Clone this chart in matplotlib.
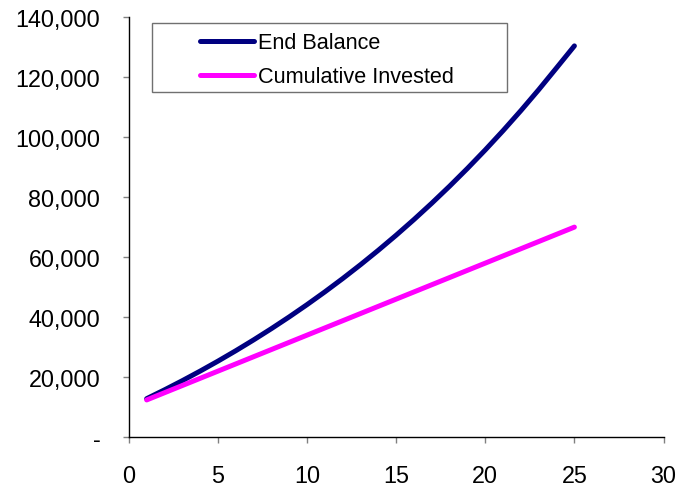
import matplotlib.pyplot as plt
from matplotlib.patches import Rectangle
from matplotlib.ticker import FuncFormatter

plt.rcParams['font.family'] = ['Liberation Sans', 'DejaVu Sans']

# Values
years = list(range(1, 26))
end_balance = [12820, 15758, 18820, 22010, 25334, 28798, 32408, 36169, 40088, 44172,
               48427, 52861, 57481, 62295, 67311, 72538, 77985, 83660, 89574, 95736,
               102157, 108848, 115820, 123084, 130400]
cumulative_invested = [12400, 14800, 17200, 19600, 22000, 24400, 26800, 29200, 31600, 34000,
                       36400, 38800, 41200, 43600, 46000, 48400, 50800, 53200, 55600, 58000,
                       60400, 62800, 65200, 67600, 70000]


def y_fmt(v, pos):
    # Excel accounting style: zero shown as a dash
    if v == 0:
        return "-"
    return f"{v:,.0f}"


fig = plt.figure(figsize=(6.89, 4.89), dpi=100)
ax = fig.add_axes([0.187, 0.104, 0.776, 0.859])

ax.plot(years, end_balance, color='#000080', linewidth=3.6, solid_capstyle='round', label='End Balance')
ax.plot(years, cumulative_invested, color='#FF00FF', linewidth=3.6, solid_capstyle='round',
        label='Cumulative Invested')

ax.set_xlim(0, 30)
ax.set_ylim(0, 140000)
ax.set_xticks(range(0, 31, 5))
ax.set_yticks(range(0, 140001, 20000))
ax.yaxis.set_major_formatter(FuncFormatter(y_fmt))

for side in ['top', 'right']:
    ax.spines[side].set_visible(False)
for side in ['left', 'bottom']:
    ax.spines[side].set_color('black')
    ax.spines[side].set_linewidth(1.0)

ax.tick_params(axis='both', direction='out', length=4.5, width=1, color='#808080', labelsize=16.8)
ax.tick_params(axis='x', pad=15)
ax.tick_params(axis='y', pad=16)

# legend frame is wider than its contents in the reference, so draw it separately
frame = Rectangle((0.2210, 0.8108), 0.5144, 0.1395, transform=fig.transFigure,
                  facecolor='white', edgecolor='#707070', linewidth=1.0, zorder=3)
fig.patches.append(frame)

leg = fig.legend(loc='upper left', bbox_to_anchor=(0.290, 0.932), fontsize=15.6, frameon=False,
                 handlelength=2.5, handletextpad=0.2, borderpad=0.0, labelspacing=0.6,
                 borderaxespad=0.0)
leg.set_zorder(4)
for h in leg.legend_handles:
    h.set_linewidth(3.6)

fig.savefig('out.png', dpi=100)
